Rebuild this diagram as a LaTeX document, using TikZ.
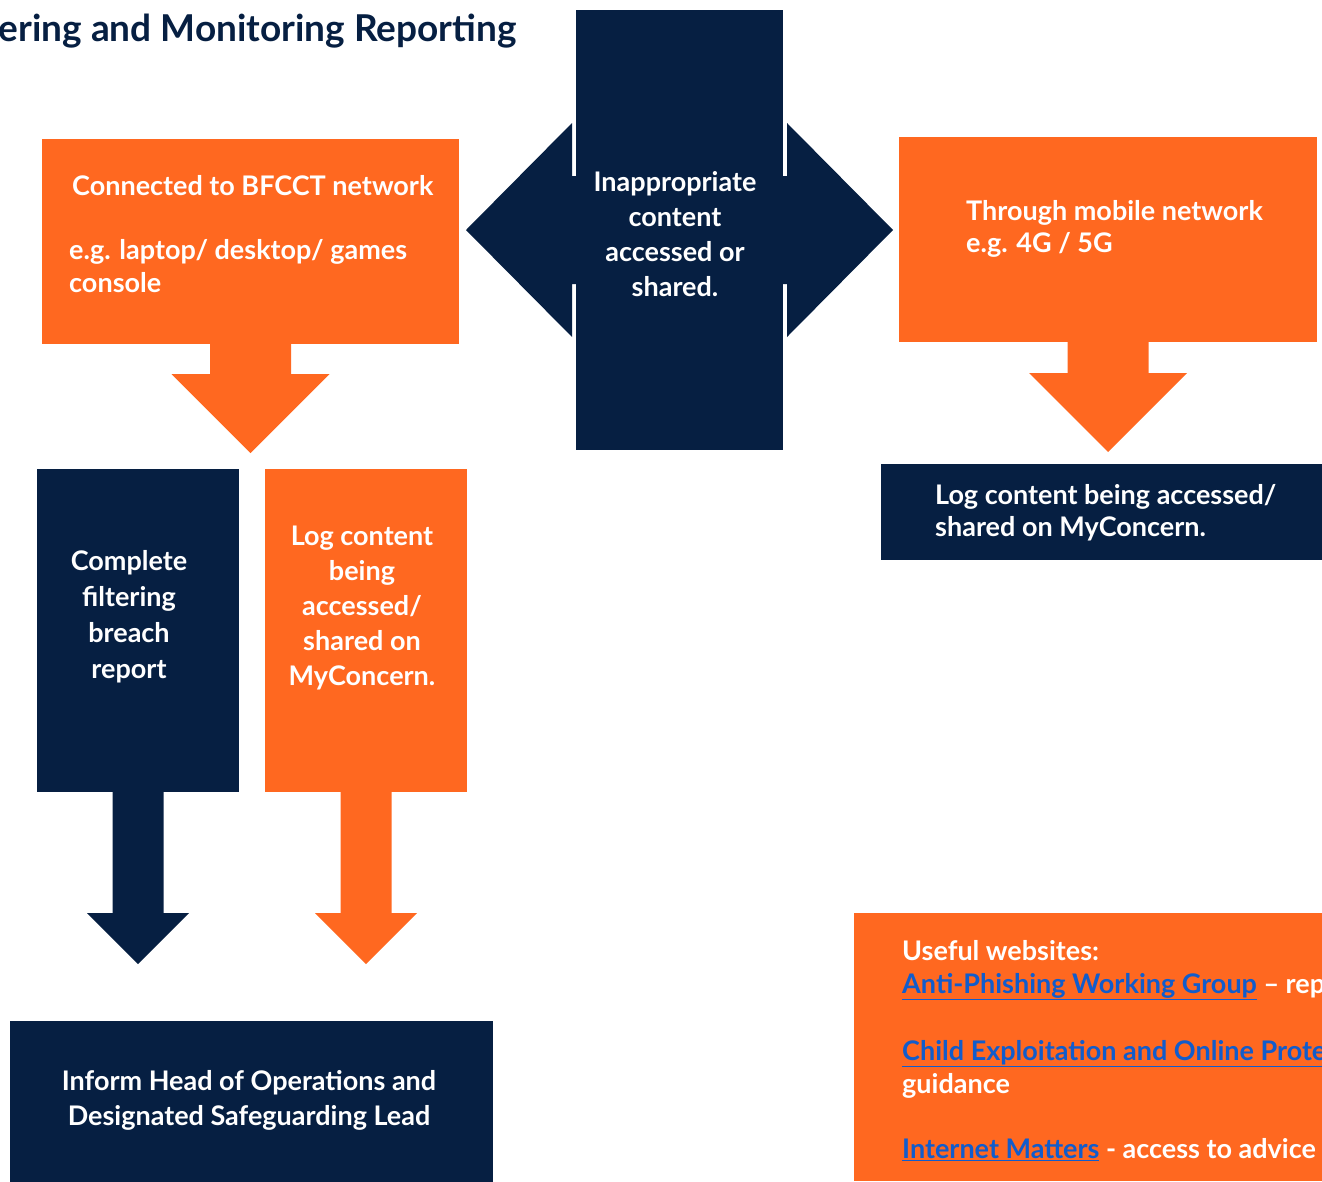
\documentclass[tikz,border=0pt]{standalone}
\usepackage{fontspec}
\setmainfont{Lato}
\usetikzlibrary{calc}

\definecolor{navyblue}{RGB}{6,31,66}
\definecolor{safeorange}{RGB}{255,104,32}
\definecolor{linkblue}{RGB}{17,92,204}

\newcommand{\bodyfont}[1]{\fontsize{27}{#1}\selectfont\bfseries}
\newcommand{\weblink}[1]{{\color{linkblue}\underline{#1}}}
% down block arrow: colour, start node, tip coordinate, half shaft, half head
\newcommand{\blockarrow}[5]{%
  \fill[#1] ($(#2.south)+(-#4,0)$) -- ($(#3)+(-#4,-#5)$) -- ($(#3)+(-#5,-#5)$) -- (#3)
    -- ($(#3)+(#5,-#5)$) -- ($(#3)+(#4,-#5)$) -- ($(#2.south)+(#4,0)$) -- cycle;}

\begin{document}
\begin{tikzpicture}[
x=1pt, y=-1pt,
box/.style={inner sep=0pt, outer sep=0pt, anchor=north west},
navybox/.style={box, fill=navyblue},
orangebox/.style={box, fill=safeorange},
lbl/.style={inner sep=0pt, text=white, align=center, anchor=north}
]
\clip (0,0) rectangle (1322,1181);
\node[anchor=east, inner sep=0pt, text=navyblue, font=\fontsize{37}{44}\selectfont\bfseries] (title) at (517,31) {ering and Monitoring Reporting};

\node[navybox, minimum width=207pt, minimum height=440pt] (inapp) at (576,10) {};
\fill[navyblue] ($(inapp.west)+(0,-54)$) -- ++(-4,0) -- ++(0,-53) -- ($(inapp.west)+(-110,0)$)
  -- ($(inapp.west)+(-4,107)$) -- ++(0,-53) -- ++(4,0) -- cycle;
\fill[navyblue] ($(inapp.east)+(0,-54)$) -- ++(4,0) -- ++(0,-53) -- ($(inapp.east)+(110,0)$)
  -- ($(inapp.east)+(4,107)$) -- ++(0,-53) -- ++(-4,0) -- cycle;
\node[lbl, font=\bodyfont{35}] (inapptext) at (675,171) {Inappropriate\\content\\accessed or\\shared.};

\node[orangebox, minimum width=417pt, minimum height=205pt] (lan) at (42,139) {};
\node[lbl, align=left, anchor=north west, font=\bodyfont{33}] (lantext) at (69,175)
  {\hspace{3pt}Connected to BFCCT network\\[31pt]e.g. laptop/ desktop/ games\\console};

\node[orangebox, minimum width=418pt, minimum height=205pt] (mobile) at (899,137) {};
\node[lbl, align=left, anchor=north west, font=\bodyfont{32}] (mobiletext) at (966,200)
  {Through mobile network\\e.g. 4G / 5G};

\node[navybox, minimum width=460pt, minimum height=96pt] (mobilelog) at (881,464) {};
\node[lbl, align=left, anchor=north west, font=\bodyfont{32}] (mobilelogtext) at (935,484)
  {Log content being accessed/\\shared on MyConcern.};

\node[navybox, minimum width=202pt, minimum height=323pt] (breach) at (37,469) {};
\node[lbl, font=\bodyfont{36}] (breachtext) at (129,550) {Complete\\filtering\\breach\\report};

\node[orangebox, minimum width=202pt, minimum height=323pt] (loglan) at (265,469) {};
\node[lbl, font=\bodyfont{35}] (loglantext) at (362,526) {Log content\\being\\accessed/\\shared on\\MyConcern.};

\node[navybox, minimum width=483pt, minimum height=180pt] (inform) at (10,1021) {};
\node[lbl, font=\bodyfont{35}] (informtext) at (249,1070)
  {Inform Head of Operations and\\Designated Safeguarding Lead};

\node[orangebox, minimum width=480pt, minimum height=268pt] (websites) at (854,913) {};
\node[lbl, align=left, anchor=north west, font=\bodyfont{33}] (websitestext) at (902,940)
  {Useful websites:\\\weblink{Anti-Phishing Working Group} -- repo\\[34pt]
   \weblink{Child Exploitation and Online Prote}\\guidance\\[32pt]
   \weblink{Internet Matters} - access to advice};

\coordinate (lantip) at ($(lan.south)+(0,109)$);
\coordinate (mobiletip) at ($(mobile.south)+(0,110)$);
\coordinate (breachtip) at ($(breach.south)+(0,172)$);
\coordinate (loglantip) at ($(loglan.south)+(0,172)$);
\blockarrow{safeorange}{lan}{lantip}{40.5}{79}
\blockarrow{safeorange}{mobile}{mobiletip}{40.5}{79}
\blockarrow{navyblue}{breach}{breachtip}{25.5}{51}
\blockarrow{safeorange}{loglan}{loglantip}{25.5}{51}
\end{tikzpicture}
\end{document}
